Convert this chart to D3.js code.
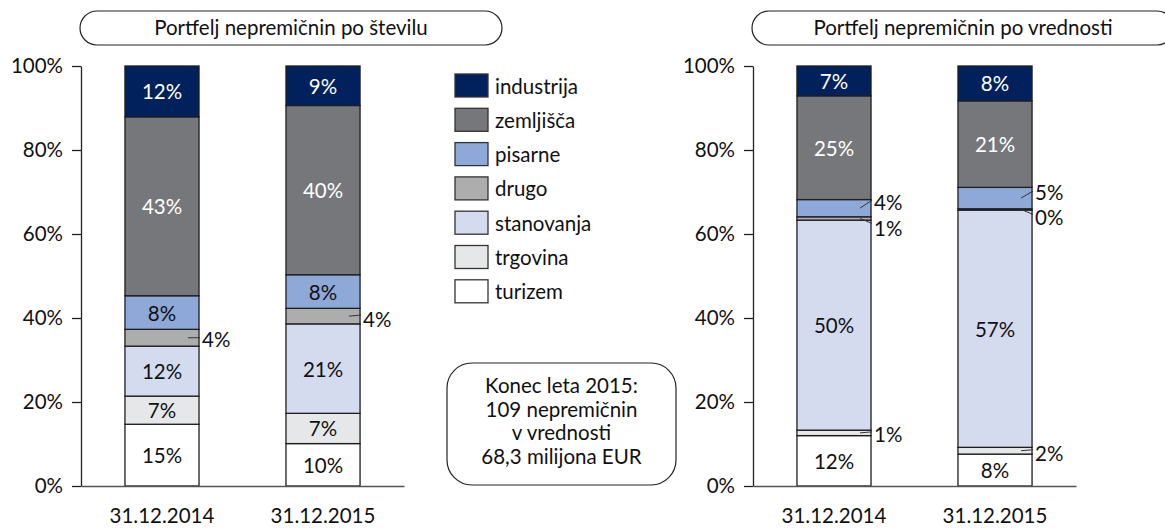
<!DOCTYPE html>
<html>
<head>
<meta charset="utf-8">
<script src="https://cdn.jsdelivr.net/npm/d3@7"></script>
<style>
  body { margin: 0; background: #fff; }
  text { font-family: Lato, "Open Sans", sans-serif; }
</style>
</head>
<body>
<script>
// podatki (deleži v %), od spodaj navzgor
var categories = ['31.12.2014', '31.12.2015'];
var stackOrder = ['turizem', 'trgovina', 'stanovanja', 'drugo', 'pisarne', 'zemljišča', 'industrija'];
var legendOrder = ['industrija', 'zemljišča', 'pisarne', 'drugo', 'stanovanja', 'trgovina', 'turizem'];
var steviloDec2014 = [14.7, 6.7, 11.9, 4.0, 8.0, 42.6, 12.1];
var steviloDec2015 = [10.1, 7.2, 21.3, 3.7, 8.0, 40.3, 9.4];
var vrednostDec2014 = [12.0, 1.3, 50.0, 0.8, 4.1, 24.7, 7.1];
var vrednostDec2015 = [7.6, 1.6, 56.5, 0.3, 5.1, 20.6, 8.3];
var yTicks = [0, 20, 40, 60, 80, 100];
var infoLines = ['Konec leta 2015:', '109 nepremičnin', 'v vrednosti', '68,3 milijona EUR'];

var colors = {
  'industrija': '#00215b', 'zemljišča': '#76777b', 'pisarne': '#8ea8d8',
  'drugo': '#adadad', 'stanovanja': '#d5dbef', 'trgovina': '#e6e7e8', 'turizem': '#ffffff'
};
var whiteText = ['industrija', 'zemljišča'];
var fs = 20.5;

var svg = d3.select('body').append('svg').attr('width', 1165).attr('height', 528);

var y = d3.scaleLinear().domain([0, 100]).range([486, 66]);

// oznake izven stolpca: [serija, stolpec, konec crte dy, besedilo dy]
var outsideStevilo = [['drugo', 0, 0, 1.5], ['drugo', 1, -1, 2.5]];
var outsideVrednost = [['pisarne', 0, -8, -6.5], ['drugo', 0, 5, 10], ['trgovina', 0, -1, 1.5],
                       ['pisarne', 1, -7, -6.5], ['drugo', 1, 5, 8], ['trgovina', 1, -1, 2.5]];

function drawChart(left, title, values, outside) {
  var g = svg.append('g');
  var x = d3.scaleBand().domain(categories).range([left, left + 323]).paddingInner(0.54).paddingOuter(0.273);

  // naslov
  g.append('rect').attr('x', left - 1).attr('y', 11).attr('width', 422).attr('height', 34)
    .attr('rx', 17).attr('fill', 'none').attr('stroke', '#222').attr('stroke-width', 1.2);
  g.append('text').attr('x', left + 210).attr('y', 35).attr('text-anchor', 'middle')
    .attr('font-size', fs).attr('fill', '#111').text(title);

  var rows = categories.map(function (c, i) {
    var o = { cat: c };
    stackOrder.forEach(function (s, j) { o[s] = values[i][j]; });
    return o;
  });
  var stack = d3.stack().keys(stackOrder)(rows);

  var layer = g.selectAll('g.layer').data(stack).enter().append('g').attr('class', 'layer');
  layer.selectAll('rect').data(function (d) { return d; }).enter().append('rect')
    .attr('x', function (d) { return x(d.data.cat); })
    .attr('width', x.bandwidth())
    .attr('y', function (d) { return y(d[1]); })
    .attr('height', function (d) { return y(d[0]) - y(d[1]); })
    .attr('fill', function () { return colors[d3.select(this.parentNode).datum().key]; })
    .attr('stroke', '#1e1e1e').attr('stroke-width', 1.3);

  // oznake
  stack.forEach(function (ser) {
    ser.forEach(function (d, i) {
      var val = d[1] - d[0];
      var mid = (y(d[0]) + y(d[1])) / 2;
      var out = outside.filter(function (o) { return o[0] === ser.key && o[1] === i; })[0];
      var txt = Math.round(val) + '%';
      if (out) {
        var xr = x(d.data.cat) + x.bandwidth();
        g.append('line').attr('x1', xr - 11).attr('y1', mid).attr('x2', xr + 1).attr('y2', mid + out[2])
          .attr('stroke', '#333').attr('stroke-width', 1);
        g.append('text').attr('x', xr + 3).attr('y', mid + out[3]).attr('dominant-baseline', 'central')
          .attr('font-size', fs).attr('fill', '#111').text(txt);
      } else {
        g.append('text').attr('x', x(d.data.cat) + x.bandwidth() / 2).attr('y', mid)
          .attr('text-anchor', 'middle').attr('dominant-baseline', 'central')
          .attr('font-size', fs).attr('fill', whiteText.indexOf(ser.key) >= 0 ? '#fff' : '#111').text(txt);
      }
    });
  });

  var yAxis = d3.axisLeft(y).tickValues(yTicks).tickSize(9).tickSizeOuter(0).tickPadding(9)
    .tickFormat(function (d) { return d + '%'; });
  var ya = g.append('g').attr('transform', 'translate(' + left + ',0)').call(yAxis);
  ya.selectAll('path, line').attr('stroke', '#222').attr('stroke-width', 1.3);
  ya.selectAll('text').attr('font-size', fs).attr('fill', '#111').style('font-family', 'Lato, sans-serif');

  var xAxis = d3.axisBottom(x).tickSize(0).tickSizeOuter(0).tickPadding(22);
  var xa = g.append('g').attr('transform', 'translate(0,' + y(0) + ')').call(xAxis);
  xa.select('path').attr('stroke', '#555').attr('stroke-width', 1.5);
  xa.selectAll('text').attr('font-size', fs).attr('fill', '#111').style('font-family', 'Lato, sans-serif');
}

drawChart(81, 'Portfelj nepremičnin po številu', [steviloDec2014, steviloDec2015], outsideStevilo);
drawChart(753, 'Portfelj nepremičnin po vrednosti', [vrednostDec2014, vrednostDec2015], outsideVrednost);

// legenda
var leg = svg.append('g').selectAll('g').data(legendOrder).enter().append('g')
  .attr('transform', function (d, i) { return 'translate(455,' + (74 + i * 34.3) + ')'; });
leg.append('rect').attr('width', 33).attr('height', 23)
  .attr('fill', function (d) { return colors[d]; }).attr('stroke', '#333').attr('stroke-width', 1.3);
leg.append('text').attr('x', 40).attr('y', 11.5).attr('dominant-baseline', 'central')
  .attr('font-size', fs).attr('fill', '#111').text(function (d) { return d; });

// okvir z besedilom
svg.append('rect').attr('x', 447).attr('y', 363).attr('width', 229).attr('height', 122).attr('rx', 25)
  .attr('fill', 'none').attr('stroke', '#222').attr('stroke-width', 1.2);
svg.append('g').selectAll('text').data(infoLines).enter().append('text')
  .attr('x', 561.5).attr('y', function (d, i) { return 393 + i * 23.5; })
  .attr('text-anchor', 'middle').attr('font-size', fs).attr('fill', '#111')
  .text(function (d) { return d; });
</script>
</body>
</html>
